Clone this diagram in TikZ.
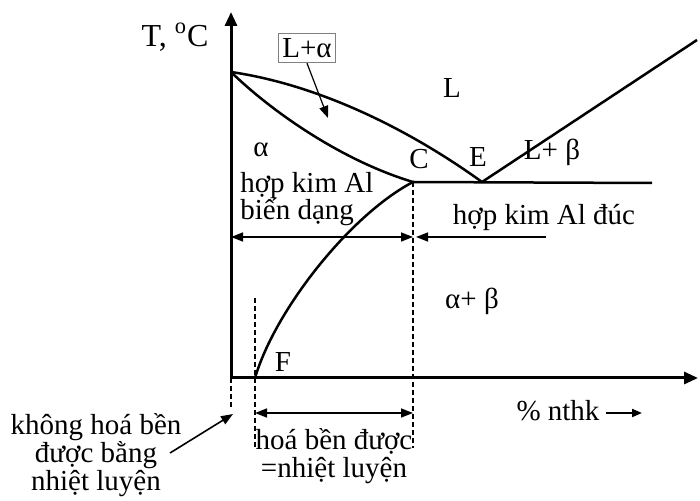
\documentclass[tikz,border=0pt]{standalone}
\usepackage{fontspec}
\setmainfont{Liberation Serif}
\usetikzlibrary{arrows.meta}
\begin{document}
\begin{tikzpicture}[x=0.5pt,y=-0.5pt,
  >={Triangle[length=6pt,width=4.5pt]},
  txt/.style={inner sep=0pt,font=\fontsize{14.5}{14}\selectfont},
  axisline/.style={line width=1.5pt,-{Triangle[length=7pt,width=6pt]}},
  curve/.style={line width=1.25pt},
  guide/.style={line width=0.6pt,dash pattern=on 2.5pt off 1.5pt},
  dim/.style={line width=0.8pt}]
\useasboundingbox (0,0) rectangle (700,501);
% key points
\coordinate (O) at (231,378);
\coordinate (Ytop) at (231,12);
\coordinate (Xend) at (698,378);
\coordinate (A) at (231,72);
\coordinate (C) at (413,182);
\coordinate (E) at (482,182);
\coordinate (F) at (255,378);
\coordinate (Lb) at (697,40);
\coordinate (Eu) at (652,183);
% axes
\draw[axisline] (O) -- (Ytop);
\draw[axisline] (O) -- (Xend);
% phase lines
\draw[curve] (A) .. controls (320,85) and (410,130) .. (E);
\draw[curve] (A) .. controls (270,110) and (340,160) .. (C);
\draw[curve] (C) .. controls (350,215) and (275,310) .. (F);
\draw[curve] (C) -- (Eu);
\draw[curve] (E) -- (Lb);
% dashed guides
\coordinate (Cd) at (413,448);
\coordinate (Ft) at (255,298);
\coordinate (Fd) at (255,448);
\coordinate (Od) at (231,410);
\draw[guide] (C) -- (Cd);
\draw[guide] (Ft) -- (Fd);
\draw[guide] (O) -- (Od);
% dimension arrows
\coordinate (dL) at (231,237);
\coordinate (dC) at (413,237);
\coordinate (dC2) at (416,237);
\coordinate (dR) at (546,237);
\draw[dim,<->] (dL) -- (dC);
\draw[dim,->] (dR) -- (dC2);
\coordinate (hL) at (255,413);
\coordinate (hR) at (413,413);
\draw[dim,<->] (hL) -- (hR);
% labels
\node[txt,font=\fontsize{16}{16}\selectfont] (T) at (175,37) {T, \textsuperscript{o}C};
\node[txt,draw=gray,line width=0.6pt,inner xsep=2pt,inner ysep=2.5pt] (La) at (307,48) {L+α};
\coordinate (LaTip) at (328,118);
\draw[line width=0.6pt,->] (La.south) -- (LaTip);
\node[txt] (L) at (452,88) {L};
\node[txt] (al) at (261,150) {α};
\node[txt] (Cl) at (419,159) {C};
\node[txt] (El) at (478,157) {E};
\node[txt] (Lbeta) at (552,152) {L+ β};
\node[txt,anchor=west] (hk1) at (240,186) {hợp kim Al};
\node[txt,anchor=west] (hk2) at (240,212) {biến dạng};
\node[txt] (duc) at (544,218) {hợp kim Al đúc};
\node[txt] (ab) at (472,301) {α+ β};
\node[txt] (Fl) at (283,362) {F};
\node[txt] (nthk) at (558,411) {\% nthk};
\coordinate (nA) at (606,413);
\coordinate (nB) at (642,413);
\draw[line width=1pt,-{Triangle[length=5pt,width=4pt]}] (nA) -- (nB);
\node[txt,align=center] (khong) at (96,455) {không hoá bền\\được bằng\\nhiệt luyện};
\coordinate (kT) at (233,414);
\coordinate (kS) at (170,453);
\draw[line width=0.8pt,->] (kS) -- (kT);
\node[txt,align=center] (hb) at (334,456) {hoá bền được\\=nhiệt luyện};
\end{tikzpicture}
\end{document}
